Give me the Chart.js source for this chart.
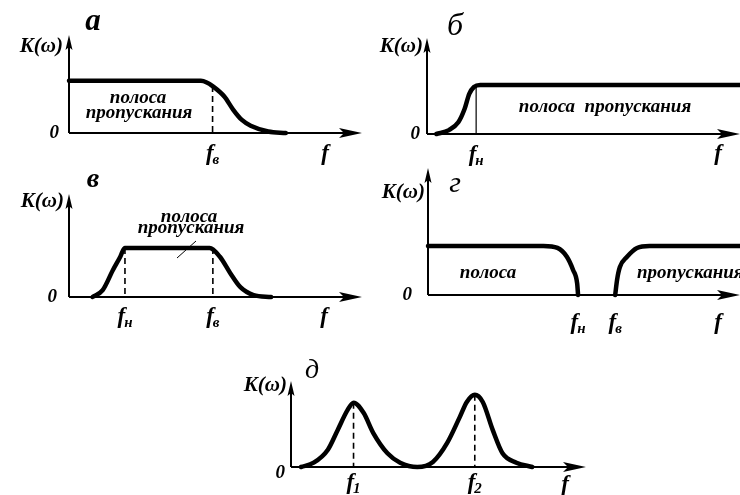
<!DOCTYPE html>
<html>
<head>
<meta charset="utf-8">
<script src="https://cdn.jsdelivr.net/npm/chart.js@4/dist/chart.umd.min.js"></script>
<style>
  html, body { margin: 0; padding: 0; background: #fff; }
  #wrap { position: relative; width: 740px; height: 495px; overflow: hidden; background: #fff; }
  #wrap canvas { position: absolute; left: 0; top: 0; }
</style>
</head>
<body>
<div id="wrap">
  <canvas id="panelA" width="740" height="495"></canvas>
  <canvas id="panelB" width="740" height="495"></canvas>
  <canvas id="panelV" width="740" height="495"></canvas>
  <canvas id="panelG" width="740" height="495"></canvas>
  <canvas id="panelD" width="740" height="495"></canvas>
</div>
<script>
// Frequency responses K(ω) of five filter types, in relative units
// (frequency 0..10 along each axis, pass-band gain = 1).

// а — low-pass filter
const freqLowPass = [0, 4.5, 4.7, 4.9, 5.3, 5.6, 5.9, 6.2, 6.8, 7.4];
const gainLowPass = [1, 1, 0.97, 0.9, 0.7, 0.45, 0.25, 0.14, 0.03, 0];

// б — high-pass filter
const freqHighPass = [0.3, 0.7, 1.0, 1.2, 1.35, 1.5, 1.7, 10];
const gainHighPass = [0, 0.08, 0.24, 0.51, 0.82, 0.96, 1, 1];

// в — band-pass filter
const freqBandPass = [0.8, 1.15, 1.5, 1.75, 1.9, 4.8, 5.15, 5.5, 5.85, 6.3, 6.9];
const gainBandPass = [0, 0.14, 0.55, 0.82, 1, 1, 0.82, 0.49, 0.2, 0.04, 0];

// г — band-stop filter (lower and upper branches)
const freqStopLower = [0, 3.7, 4.15, 4.45, 4.65, 4.78, 4.81];
const gainStopLower = [1, 1, 0.96, 0.78, 0.51, 0.24, 0];
const freqStopUpper = [6.0, 6.06, 6.15, 6.38, 6.7, 7.1, 10];
const gainStopUpper = [0, 0.31, 0.57, 0.78, 0.96, 1, 1];

// д — two resonance peaks
const freqResonance = [0.34, 0.77, 1.25, 1.58, 1.92, 2.12, 2.46, 2.79, 3.27, 3.7, 4.28,
                       4.81, 5.29, 5.72, 5.96, 6.23, 6.5, 6.84, 7.17, 7.64, 8.18];
const gainResonance = [0, 0.06, 0.24, 0.51, 0.79, 0.89, 0.75, 0.47, 0.19, 0.06, 0,
                       0.07, 0.33, 0.69, 0.9, 1, 0.9, 0.51, 0.19, 0.06, 0];

// Marked frequencies (value on the axis, gain at that point, subscript)
const marksLowPass  = [4.9];   const marksLowPassK  = [0.9];  const marksLowPassSub  = ['в'];
const marksHighPass = [1.57];  const marksHighPassK = [0.98]; const marksHighPassSub = ['н'];
const marksBandPass = [1.91, 4.91]; const marksBandPassK = [1, 1]; const marksBandPassSub = ['н', 'в'];
const marksStop     = [4.81, 6.0];  const marksStopK     = [0, 0]; const marksStopSub     = ['н', 'в'];
const marksRes      = [2.12, 6.23]; const marksResK      = [0.89, 1]; const marksResSub      = ['1', '2'];

// Text
const panelLetters = ['а', 'б', 'в', 'г', 'д'];
const axisLabelY = 'K(ω)';
const axisLabelX = 'f';
const zeroLabel = '0';
const bandWord1 = 'полоса';
const bandWord2 = 'пропускания';

const SERIF = "'Liberation Serif', 'Times New Roman', serif";

function series(xs, ys) {
  return {
    data: xs.map((x, i) => ({ x: x, y: ys[i] })),
    borderColor: '#000',
    borderWidth: 4.5,
    borderCapStyle: 'round',
    borderJoinStyle: 'round',
    cubicInterpolationMode: 'monotone',
    fill: false,
    clip: false,
    pointRadius: 0
  };
}

function marks(fs, ks, subs, dy, guide) {
  return fs.map((f, i) => ({ x: f, top: ks[i], sub: subs[i], dy: dy, guide: guide }));
}

// f with a subscript, centred on x
function drawF(ctx, x, y, sub) {
  const mainFont = 'bold italic 23px ' + SERIF;
  const subFont = 'bold italic 15px ' + SERIF;
  ctx.font = mainFont;
  const w1 = ctx.measureText(axisLabelX).width;
  ctx.font = subFont;
  const w2 = sub ? ctx.measureText(sub).width : 0;
  const total = w1 + (sub ? w2 - 1 : 0);
  const x0 = x - total / 2;
  ctx.textAlign = 'left';
  ctx.textBaseline = 'alphabetic';
  ctx.font = mainFont;
  ctx.fillText(axisLabelX, x0, y);
  if (sub) {
    ctx.font = subFont;
    ctx.fillText(sub, x0 + w1 - 1, y + 4);
  }
}

const sketchPlugin = {
  id: 'sketch',
  beforeDatasetsDraw(chart, args, o) {
    const ctx = chart.ctx;
    const xs = chart.scales.x, ys = chart.scales.y;
    const ox = xs.getPixelForValue(0), oy = ys.getPixelForValue(0);
    const xt = xs.getPixelForValue(xs.max), yt = ys.getPixelForValue(ys.max);
    ctx.save();
    ctx.strokeStyle = '#000';
    ctx.fillStyle = '#000';
    ctx.lineWidth = 2;
    // axes
    ctx.beginPath();
    ctx.moveTo(ox, oy); ctx.lineTo(xt - 14, oy);
    ctx.moveTo(ox, oy); ctx.lineTo(ox, yt + 10);
    ctx.stroke();
    // arrow heads
    ctx.beginPath();
    ctx.moveTo(xt, oy); ctx.lineTo(xt - 23, oy - 5); ctx.lineTo(xt - 18, oy); ctx.lineTo(xt - 23, oy + 5);
    ctx.closePath(); ctx.fill();
    ctx.beginPath();
    ctx.moveTo(ox, yt); ctx.lineTo(ox - 3.5, yt + 15); ctx.lineTo(ox, yt + 12); ctx.lineTo(ox + 3.5, yt + 15);
    ctx.closePath(); ctx.fill();
    // guide lines at marked frequencies
    (o.marks || []).forEach(m => {
      if (!m.guide) return;
      const px = xs.getPixelForValue(m.x);
      ctx.beginPath();
      ctx.lineWidth = m.guide === 'dash' ? 1.6 : 1.2;
      ctx.setLineDash(m.guide === 'dash' ? [6, 4] : []);
      ctx.moveTo(px, ys.getPixelForValue(m.top));
      ctx.lineTo(px, oy);
      ctx.stroke();
    });
    ctx.setLineDash([]);
    ctx.restore();
  },
  afterDatasetsDraw(chart, args, o) {
    const ctx = chart.ctx;
    const xs = chart.scales.x, ys = chart.scales.y;
    const ox = xs.getPixelForValue(0), oy = ys.getPixelForValue(0);
    const xt = xs.getPixelForValue(xs.max);
    ctx.save();
    ctx.fillStyle = '#000';
    ctx.strokeStyle = '#000';
    // panel letter
    ctx.font = o.letterFont + ' ' + SERIF;
    ctx.textAlign = 'center';
    ctx.textBaseline = 'alphabetic';
    ctx.fillText(o.letter, ox + o.letterAt[0], oy + o.letterAt[1]);
    // K(ω)
    ctx.font = 'bold italic 21px ' + SERIF;
    ctx.textAlign = 'right';
    ctx.fillText(axisLabelY, ox + o.kAt[0], oy + o.kAt[1]);
    // 0
    ctx.font = 'bold italic 19px ' + SERIF;
    ctx.textBaseline = 'middle';
    ctx.fillText(zeroLabel, ox + o.zeroAt[0], oy + o.zeroAt[1]);
    // frequency labels
    (o.marks || []).forEach(m => drawF(ctx, xs.getPixelForValue(m.x), oy + m.dy, m.sub));
    drawF(ctx, xt + o.fAt[0], oy + o.fAt[1], '');
    // captions
    ctx.font = 'bold italic 19px ' + SERIF;
    ctx.textBaseline = 'alphabetic';
    (o.texts || []).forEach(t => {
      ctx.textAlign = t.align || 'center';
      ctx.fillText(t.text, ox + t.at[0], oy + t.at[1]);
    });
    if (o.leader) {
      ctx.lineWidth = 1;
      ctx.beginPath();
      ctx.moveTo(ox + o.leader[0], oy + o.leader[1]);
      ctx.lineTo(ox + o.leader[2], oy + o.leader[3]);
      ctx.stroke();
    }
    ctx.restore();
  }
};

function panel(id, pad, yMax, datasets, deco) {
  return new Chart(document.getElementById(id), {
    type: 'line',
    data: { datasets: datasets },
    options: {
      responsive: false,
      animation: false,
      events: [],
      layout: { padding: pad },
      scales: {
        x: { type: 'linear', min: 0, max: 10, display: false },
        y: { type: 'linear', min: 0, max: yMax, display: false }
      },
      plugins: { legend: { display: false }, tooltip: { enabled: false }, sketch: deco }
    },
    plugins: [sketchPlugin]
  });
}

// а
panel('panelA', { left: 69, top: 35, right: 740 - 362, bottom: 495 - 133 }, 1.88,
  [series(freqLowPass, gainLowPass)],
  {
    letter: panelLetters[0], letterFont: 'bold italic 31px', letterAt: [24, -103],
    kAt: [-6, -81], zeroAt: [-10, 0], fAt: [-37, 27],
    marks: marks(marksLowPass, marksLowPassK, marksLowPassSub, 27, 'dash'),
    texts: [{ text: bandWord1, at: [69, -30] }, { text: bandWord2, at: [70, -15] }]
  });

// б
panel('panelB', { left: 427, top: 38, right: 0, bottom: 495 - 134 }, 1.96,
  [series(freqHighPass, gainHighPass)],
  {
    letter: panelLetters[1], letterFont: 'italic 32px', letterAt: [28, -99],
    kAt: [-4, -82], zeroAt: [-7, 0], fAt: [-22, 26],
    marks: marks(marksHighPass, marksHighPassK, marksHighPassSub, 27, 'solid'),
    texts: [{ text: bandWord1 + '  ' + bandWord2, at: [178, -22] }]
  });

// в
panel('panelV', { left: 69, top: 194, right: 740 - 362, bottom: 495 - 297 }, 2.1,
  [series(freqBandPass, gainBandPass)],
  {
    letter: panelLetters[2], letterFont: 'bold italic 28px', letterAt: [24, -110],
    kAt: [-5, -90], zeroAt: [-12, 0], fAt: [-38, 26],
    marks: marks(marksBandPass, marksBandPassK, marksBandPassSub, 26, 'dash'),
    texts: [{ text: bandWord1, at: [120, -75] }, { text: bandWord2, at: [122, -64] }],
    leader: [127, -56, 108, -39]
  });

// г
panel('panelG', { left: 428, top: 168, right: 0, bottom: 495 - 295 }, 2.59,
  [series(freqStopLower, gainStopLower), series(freqStopUpper, gainStopUpper)],
  {
    letter: panelLetters[3], letterFont: 'italic 30px', letterAt: [27, -103],
    kAt: [-3, -97], zeroAt: [-16, 0], fAt: [-22, 34],
    marks: marks(marksStop, marksStopK, marksStopSub, 34, null),
    texts: [{ text: bandWord1, at: [60, -17] }, { text: bandWord2, at: [209, -17], align: 'left' }]
  });

// д
panel('panelD', { left: 291, top: 381, right: 740 - 586, bottom: 495 - 467 }, 1.19,
  [series(freqResonance, gainResonance)],
  {
    letter: panelLetters[4], letterFont: 'italic 28px', letterAt: [21, -89],
    kAt: [-4, -76], zeroAt: [-6, 6], fAt: [-21, 24],
    marks: marks(marksRes, marksResK, marksResSub, 22, 'dash')
  });
</script>
</body>
</html>
